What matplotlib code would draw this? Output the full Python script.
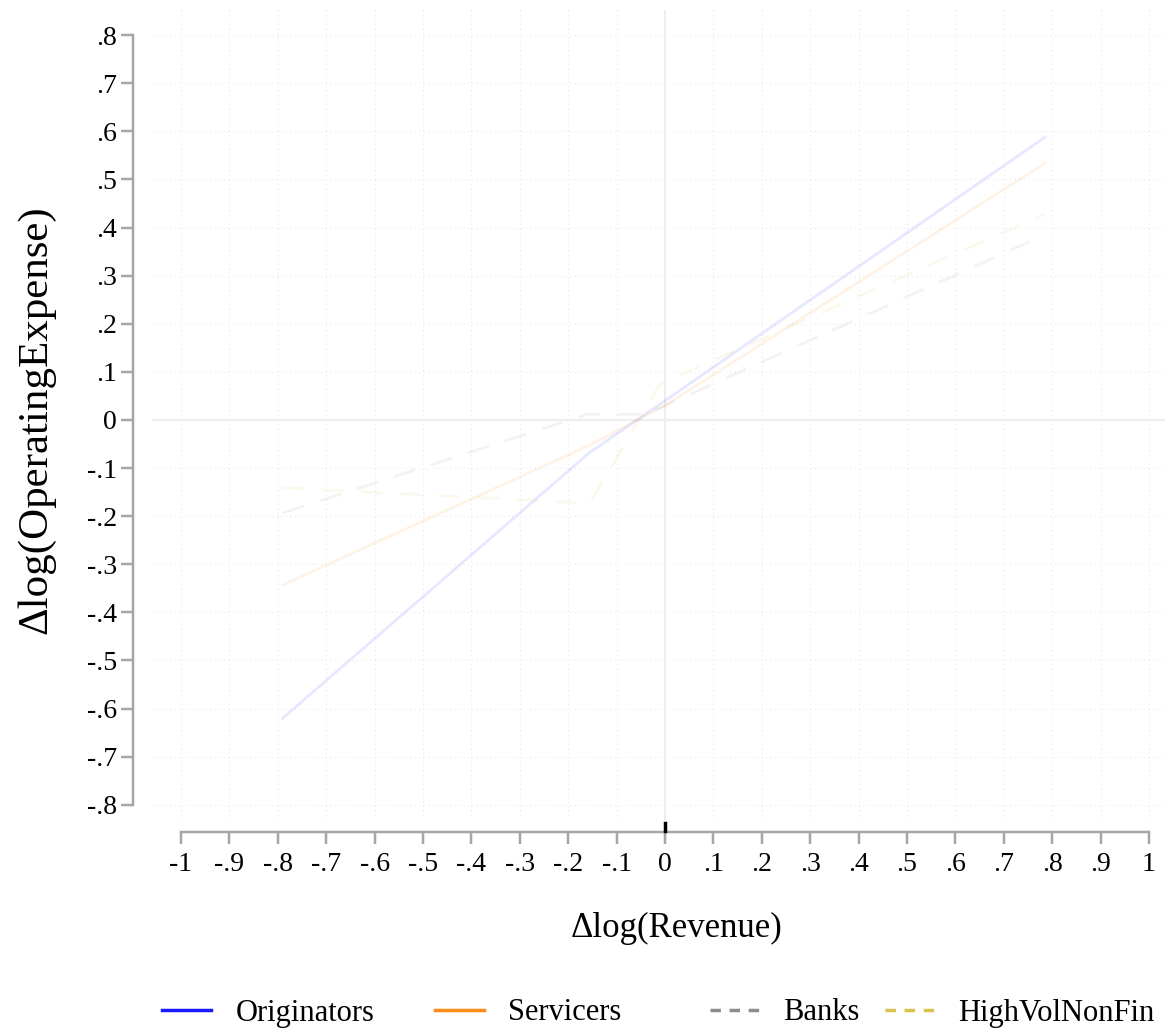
import matplotlib
matplotlib.use("Agg")
import matplotlib.pyplot as plt
import numpy as np
from matplotlib.lines import Line2D

plt.rcParams['font.family'] = ['Liberation Serif', 'DejaVu Serif']

# Data (piecewise fitted lines)
orig_x = [-0.79, -0.155, 0.0, 0.785]
orig_y = [-0.62, -0.067, 0.040, 0.588]
serv_x = [-0.79, -0.155, 0.0, 0.785]
serv_y = [-0.343, -0.052, 0.030, 0.534]
bank_x = [-0.79, -0.16, -0.04, 0.785]
bank_y = [-0.193, 0.012, 0.012, 0.385]
hv_x = [-0.79, -0.155, -0.01, 0.785]
hv_y = [-0.141, -0.173, 0.075, 0.428]

series_names = ["Originators", "Servicers", "Banks", "HighVolNonFin"]
xticks = [-1, -0.9, -0.8, -0.7, -0.6, -0.5, -0.4, -0.3, -0.2, -0.1, 0, 0.1, 0.2, 0.3, 0.4, 0.5, 0.6, 0.7, 0.8, 0.9, 1]
yticks = [-0.8, -0.7, -0.6, -0.5, -0.4, -0.3, -0.2, -0.1, 0, 0.1, 0.2, 0.3, 0.4, 0.5, 0.6, 0.7, 0.8]

def lab(v):
    if abs(v) < 1e-9:
        return "0"
    if abs(abs(v) - 1) < 1e-9:
        return "-1" if v < 0 else "1"
    return f"{v:.1f}".replace("0.", ".")

W, H = 1165, 1030
PX = 72 / 100  # points per pixel
fig = plt.figure(figsize=(W / 100, H / 100), dpi=100)
L, R, T, B = 152, 1165, 10, 820
ax = fig.add_axes([L / W, 1 - B / H, (R - L) / W, (B - T) / H])
x0 = 665; xs = 484
y0 = 420; ys = 481
ax.set_xlim((L - x0) / xs, (R - x0) / xs)
ax.set_ylim((y0 - B) / ys, (y0 - T) / ys)

# grid
for t in xticks:
    ax.axvline(t, color='#e8e8e8', lw=0.8, ls=(0, (1, 3)), zorder=0)
for t in yticks:
    ax.axhline(t, color='#e8e8e8', lw=0.8, ls=(0, (1, 3)), zorder=0)
ax.axhline(0, color='#eeeeee', lw=1.5, zorder=1)
ax.axvline(0, color='#eeeeee', lw=1.5, zorder=1)

cols = ['#1a1aff', '#ff8c1a', '#8c8c8c', '#d9c24d']
a = 0.1
ax.plot(orig_x, orig_y, color=cols[0], alpha=a, lw=2, zorder=3)
ax.plot(serv_x, serv_y, color=cols[1], alpha=a, lw=2, zorder=3)
ax.plot(bank_x, bank_y, color=cols[2], alpha=a, lw=2, ls=(0, (8, 6)), zorder=3)
ax.plot(hv_x, hv_y, color=cols[3], alpha=a, lw=2, ls=(0, (8, 6)), zorder=3)

# spines
for s in ['top', 'right']:
    ax.spines[s].set_visible(False)
ax.spines['left'].set_position(('outward', 19 * PX))
ax.spines['left'].set_bounds(-0.8, 0.8)
ax.spines['bottom'].set_position(('outward', 12 * PX))
ax.spines['bottom'].set_bounds(-1, 1)
for s in ['left', 'bottom']:
    ax.spines[s].set_color('#a6a6a6')
    ax.spines[s].set_linewidth(2.5 * PX)

ax.set_xticks(xticks)
ax.set_xticklabels([lab(v) for v in xticks])
ax.set_yticks(yticks)
ax.set_yticklabels([lab(v) for v in yticks])
ax.tick_params(axis='both', colors='#a6a6a6', width=2.5 * PX, length=12 * PX,
               labelsize=20, labelcolor='black')
ax.tick_params(axis='x', pad=8 * PX)
ax.tick_params(axis='y', pad=4 * PX)

fig.text(676 / W, 1 - 928 / H, "\u0394log(Revenue)", fontsize=25, ha='center', va='center')
fig.text(36 / W, 1 - 420 / H, "\u0394log(OperatingExpense)", fontsize=31, ha='center',
         va='center', rotation=90)

# small black mark at x=0 above axis
fig.add_artist(Line2D([665 / W, 665 / W], [1 - 823 / H, 1 - 831 / H], color='black', lw=2.5))

handles = [Line2D([], [], color=cols[0], lw=2.5),
           Line2D([], [], color=cols[1], lw=2.5),
           Line2D([], [], color=cols[2], lw=2.5, ls=(0, (3, 2.5))),
           Line2D([], [], color=cols[3], lw=2.5, ls=(0, (3, 2.5)))]
leg_x = [162, 435, 710, 885]
for h, name, lx in zip(handles, series_names, leg_x):
    fig.legend([h], [name], loc='center left', bbox_to_anchor=(lx / W, 1 - 1013 / H),
               frameon=False, fontsize=22, handlelength=1.6, handletextpad=0.8,
               borderpad=0, borderaxespad=0)

fig.savefig("out.png", dpi=100)
